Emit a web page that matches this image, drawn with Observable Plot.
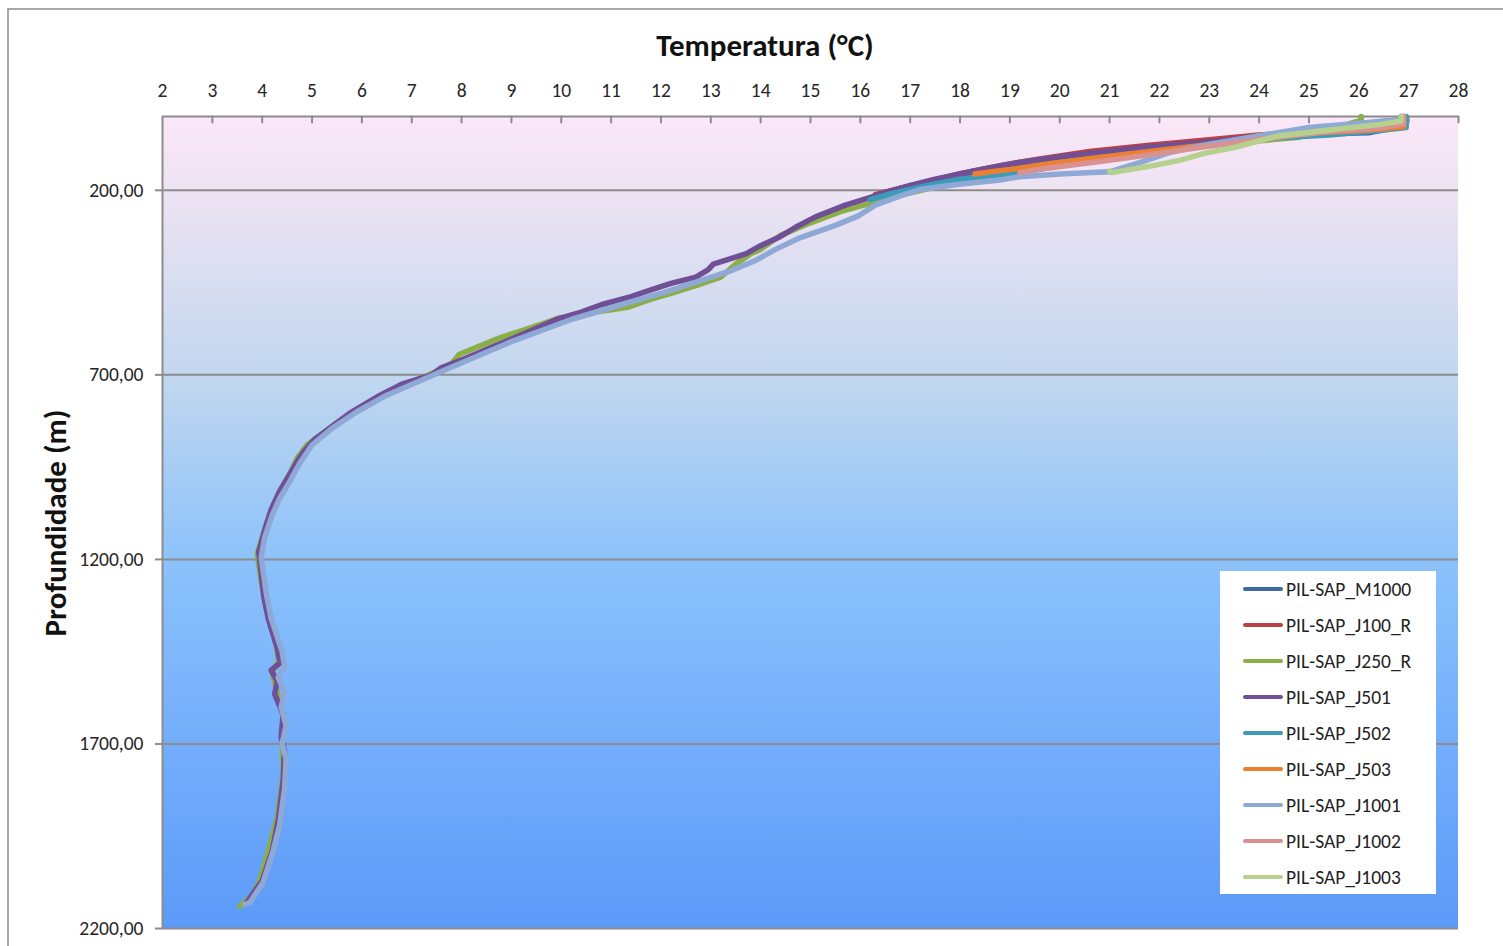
<!DOCTYPE html>
<html>
<head>
<meta charset="utf-8">
<script src="https://cdn.jsdelivr.net/npm/d3@7"></script>
<script src="https://cdn.jsdelivr.net/npm/@observablehq/plot@0.6"></script>
<style>
  html, body { margin: 0; padding: 0; background: #fff; overflow: hidden; }
  #wrap { position: relative; width: 1503px; height: 946px; font-family: Carlito, Lato, "Open Sans", sans-serif; color: #262626; }
  #chart svg { display: block; }
  .title { position: absolute; font-weight: bold; font-size: 31px; color: #111; white-space: nowrap; }
  #xtitle { left: 765px; top: 45px; transform: translate(-50%, -50%); }
  #ytitle { left: 55px; top: 523px; transform: translate(-50%, -50%) rotate(-90deg); }
  #legend { position: absolute; left: 1220px; top: 571px; width: 216px; height: 323px; background: #fff; }
  .item { position: absolute; left: 0; height: 20px; display: flex; align-items: center; font-size: 19.5px; color: #222; white-space: nowrap; }
  .sw { width: 40px; height: 4px; border-radius: 2px; margin-left: 23px; margin-right: 3px; }
</style>
</head>
<body>
<div id="wrap">
  <div id="chart"></div>
  <div class="title" id="xtitle">Temperatura (°C)</div>
  <div class="title" id="ytitle">Profundidade (m)</div>
  <div id="legend"></div>
</div>
<script>
// ---------- DATA ----------
const seriesNames = ["PIL-SAP_M1000","PIL-SAP_J100_R","PIL-SAP_J250_R","PIL-SAP_J501","PIL-SAP_J502","PIL-SAP_J503","PIL-SAP_J1001","PIL-SAP_J1002","PIL-SAP_J1003"];
const seriesColors = ["#3e6ba8","#b7423f","#8bae46","#704f97","#3b9cb9","#ec8030","#8fa9d6","#d99291","#b6d08e"];

const tempTicks = [2,3,4,5,6,7,8,9,10,11,12,13,14,15,16,17,18,19,20,21,22,23,24,25,26,27,28];
const depthTicks = [200,700,1200,1700,2200];

// PIL-SAP_M1000
const m1000Temp  = [26.9,26.9,26.2,25.0,24.0,23.0,21.5,20.4,19.3,18.4,17.6,17.0,16.5];
const m1000Depth = [0,25,44,48,54,70,88,104,125,148,170,188,205];
// PIL-SAP_J100_R
const j100Temp  = [26.9,26.9,26.3,25.2,24.0,23.0,21.8,20.6,19.6,18.8,18.0,17.4,16.8,16.3];
const j100Depth = [0,18,35,42,50,63,78,95,115,133,155,175,195,212];
// PIL-SAP_J250_R
const j250Temp  = [26.05,26.05,25.5,24.8,23.5,22.0,20.6,19.5,18.6,17.8,16.9,16.4,15.6,15.0,14.4,14.0,13.8,13.5,13.2,12.7,12.25,11.8,11.33,10.7,9.98,9.4,8.78,8.3,7.95,7.8,7.3,6.8,6.2,5.7,5.3,4.9,4.72,4.6,4.4,4.2,4.05,3.9,3.98,4.08,4.28,4.33,4.2,4.3,4.42,4.4,4.42,4.3,4.12,3.95,3.8,3.55];
const j250Depth = [0,10,32,56,72,88,108,135,158,182,210,228,258,288,322,360,372,400,435,458,477,495,517,530,545,572,599,625,645,670,703,730,770,810,850,890,922,955,1005,1060,1120,1185,1260,1330,1430,1475,1505,1560,1630,1700,1780,1900,1990,2070,2110,2140];
// PIL-SAP_J501
const j501Temp  = [26.85,26.85,26.2,25.4,24.2,23.1,22.0,20.8,20.0,19.15,18.3,17.5,17.0,16.5,16.3,15.7,15.1,14.7,14.4,14.0,13.7,13.4,13.05,12.95,12.7,12.2,11.8,11.4,10.8,10.4,9.9,9.4,9.0,8.6,8.0,7.6,7.4,6.8,6.3,5.8,5.4,5.05,4.85,4.7,4.55,4.35,4.18,4.05,3.93,3.95,4.03,4.12,4.3,4.36,4.18,4.3,4.25,4.42,4.38,4.45,4.42,4.33,4.2,4.0,3.7];
const j501Depth = [0,22,40,45,51,68,80,97,110,125,147,170,187,206,215,240,272,300,325,350,372,385,400,415,435,452,470,488,510,530,550,580,603,625,660,680,700,725,760,800,840,875,905,935,970,1015,1065,1120,1180,1200,1300,1360,1440,1480,1500,1530,1565,1620,1680,1720,1800,1900,1990,2070,2128];
// PIL-SAP_J502
const j502Temp  = [26.95,26.95,26.4,25.4,24.3,23.2,22.0,20.8,19.8,19.0,18.0,17.3,16.6,16.2];
const j502Depth = [0,30,38,50,58,75,92,112,138,155,170,188,210,225];
// PIL-SAP_J503
const j503Temp  = [26.9,26.9,26.3,25.2,24.0,22.8,21.8,20.8,19.8,19.2,18.6,18.3];
const j503Depth = [0,28,36,44,58,79,95,111,128,140,150,156];
// PIL-SAP_J1001
const j1001Temp  = [26.85,26.8,26.2,25.0,24.0,23.0,22.2,21.6,21.0,20.0,19.2,18.8,17.9,17.2,16.8,16.3,15.95,15.5,14.8,14.3,13.9,13.4,12.9,12.1,11.2,10.2,9.7,9.0,8.3,7.7,7.1,6.5,5.9,5.4,5.0,4.75,4.55,4.35,4.2,4.05,3.98,4.08,4.18,4.4,4.45,4.32,4.45,4.38,4.48,4.4,4.48,4.45,4.35,4.22,4.02,3.75,3.65];
const j1001Depth = [0,8,16,30,52,75,98,125,150,156,163,172,185,198,215,240,270,295,328,360,390,418,440,475,510,550,575,610,650,685,720,755,800,845,890,940,990,1035,1080,1140,1195,1290,1360,1450,1490,1520,1560,1600,1650,1700,1740,1820,1920,1990,2075,2130,2135];
// PIL-SAP_J1002
const j1002Temp  = [26.9,26.9,26.4,25.3,24.0,22.8,21.8,20.8,19.7,19.2];
const j1002Depth = [0,20,32,42,62,84,104,122,141,152];
// PIL-SAP_J1003
const j1003Temp  = [26.85,26.85,26.4,25.5,24.4,23.5,22.9,22.4,21.8,21.3,21.05,21.0];
const j1003Depth = [0,12,22,35,52,84,100,119,135,146,152,148];

const temps  = [m1000Temp, j100Temp, j250Temp, j501Temp, j502Temp, j503Temp, j1001Temp, j1002Temp, j1003Temp];
const depths = [m1000Depth, j100Depth, j250Depth, j501Depth, j502Depth, j503Depth, j1001Depth, j1002Depth, j1003Depth];

const rows = [];
seriesNames.forEach((name, i) => {
  temps[i].forEach((t, k) => rows.push({series: name, temp: t, depth: depths[i][k]}));
});

// ---------- DECOR ----------
const gradStops = [[0,"#fbe7f8"],[0.1,"#ece3f3"],[0.32,"#c2d7ef"],[0.55,"#8bc2fb"],[0.78,"#73adfb"],[1,"#5c9af9"]];
function background(index, scales, values, dims) {
  const g = d3.create("svg:g");
  const lg = g.append("defs").append("linearGradient").attr("id","bggrad")
    .attr("x1",0).attr("y1",0).attr("x2",0).attr("y2",1);
  gradStops.forEach(([o,c]) => lg.append("stop").attr("offset", o).attr("stop-color", c));
  g.append("path").attr("d", `M8,${dims.height} V9 H${dims.width}`).attr("fill","none").attr("stroke","#8c8c8c").attr("stroke-width",1.5);
  g.append("rect")
    .attr("x", dims.marginLeft).attr("y", dims.marginTop)
    .attr("width", dims.width - dims.marginLeft - dims.marginRight)
    .attr("height", dims.height - dims.marginTop - dims.marginBottom)
    .attr("fill","url(#bggrad)");
  return g.node();
}
const tickDown = {draw(context, l) { context.moveTo(0, 0); context.lineTo(0, l); }};
const fmt = d => d3.format(".2f")(d).replace(".", ",");

const chart = Plot.plot({
  width: 1503, height: 946,
  marginLeft: 162, marginRight: 45, marginTop: 116, marginBottom: 18,
  style: {fontFamily: "Carlito, Lato, 'Open Sans', sans-serif", fontSize: "19.5px", background: "transparent", color: "#262626"},
  x: {domain: [2, 28], axis: null},
  y: {domain: [0, 2200], reverse: true, axis: null},
  color: {domain: seriesNames, range: seriesColors},
  marks: [
    background,
    Plot.ruleY(depthTicks, {stroke: "#8c8c8c", strokeWidth: 2}),
    Plot.ruleX([tempTicks[0]], {stroke: "#8c8c8c", strokeWidth: 2}),
    Plot.ruleY([0], {stroke: "#8c8c8c", strokeWidth: 2}),
    Plot.vector(tempTicks.slice(1), {x: d => d, frameAnchor: "top", length: 6, anchor: "start", shape: tickDown, stroke: "#8c8c8c", strokeWidth: 2}),
    Plot.axisX(tempTicks, {anchor: "top", tickSize: 0, tickPadding: 20, label: null, fill: "#262626"}),
    Plot.axisY(depthTicks, {anchor: "left", tickSize: 7, tickPadding: 12, tickFormat: fmt, label: null, stroke: "#8c8c8c", strokeWidth: 2, fill: "#262626"}),
    Plot.line(rows, {x: "temp", y: "depth", z: "series", stroke: "series", strokeWidth: 5.5, strokeLinejoin: "round", strokeLinecap: "round"})
  ]
});
document.getElementById("chart").appendChild(chart);

// legend
const legend = document.getElementById("legend");
seriesNames.forEach((name, i) => {
  const it = document.createElement("div");
  it.className = "item";
  it.style.top = (8 + 36 * i) + "px";
  it.innerHTML = `<span class="sw" style="background:${seriesColors[i]}"></span><span>${name}</span>`;
  legend.appendChild(it);
});
</script>
</body>
</html>
